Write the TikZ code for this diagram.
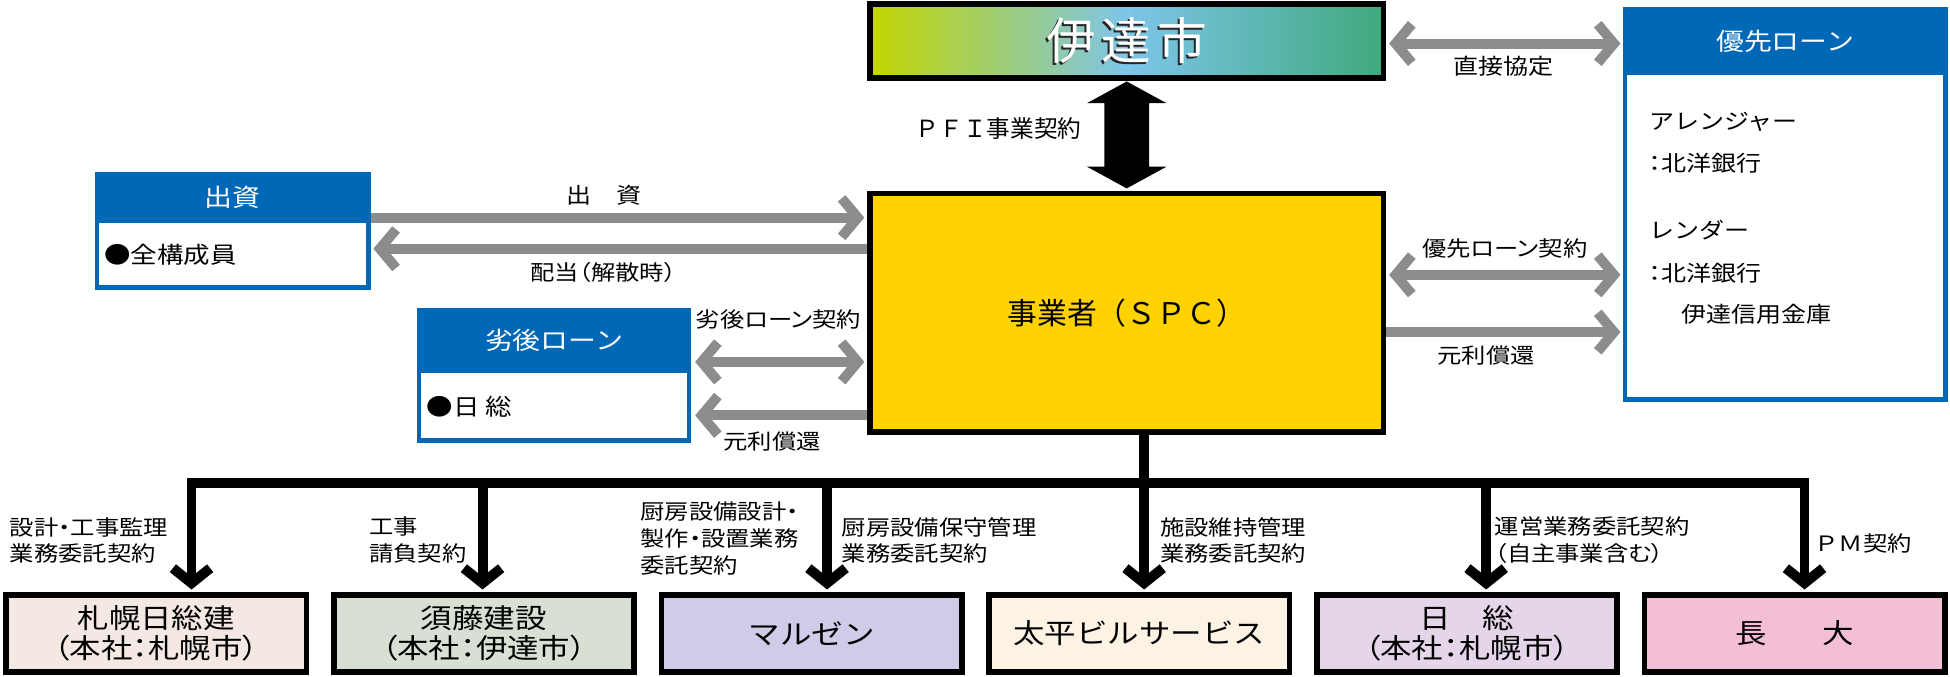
\documentclass[tikz,border=0pt]{standalone}
\usepackage{fontspec}
\setmainfont{Noto Sans CJK JP}
\newfontfamily\jpn{Noto Sans CJK JP}
\newfontfamily\jpw[FakeStretch=1.15]{Noto Sans CJK JP}
\newfontfamily\jpp[FakeStretch=1.15,RawFeature=+palt]{Noto Sans CJK JP}
\usetikzlibrary{arrows.meta,calc}
\definecolor{gArrow}{HTML}{8C8C8C}
\definecolor{hdrBlue}{HTML}{0068B6}
\definecolor{spcYellow}{HTML}{FFD200}
\definecolor{cityL}{HTML}{C3D600}
\definecolor{cityM}{HTML}{7EC5EA}
\definecolor{cityR}{HTML}{3FA97C}
\definecolor{fA}{HTML}{F3E8E2}
\definecolor{fB}{HTML}{D8E0D3}
\definecolor{fC}{HTML}{CFCCE8}
\definecolor{fD}{HTML}{FDF3E5}
\definecolor{fE}{HTML}{E5D5E9}
\definecolor{fF}{HTML}{F5BED7}
\newcommand{\sz}[2]{\fontsize{#1pt}{#2pt}\selectfont}
\tikzset{
  gtip/.tip={Straight Barb[length=13pt,width=31pt,sharp]},
  btip/.tip={Straight Barb[length=12pt,width=30pt,sharp]},
  gline/.style={draw=gArrow,line width=8pt},
  bline/.style={draw=black,line width=8pt},
  blackbox/.style={draw=black,line width=4.5pt,inner sep=0pt,outer sep=0pt},
  bluebody/.style={draw=hdrBlue,line width=3.5pt,fill=white,inner sep=0pt,outer sep=0pt},
  bluehdr/.style={fill=hdrBlue,inner sep=0pt,outer sep=0pt,text=white,font=\jpw\sz{19.5}{22}},
  lbl/.style={inner sep=0pt,outer sep=0pt,text=black,font=\jpw\sz{17}{21.5}},
  plbl/.style={lbl,font=\jpp\sz{17}{21.5}},
  mlbl/.style={plbl,align=left,anchor=west},
  bodytxt/.style={lbl,font=\jpw\sz{17.5}{20},anchor=west},
  corp/.style={blackbox,minimum width=241.5pt,minimum height=62pt,font=\jpw\sz{22}{24.5},align=center},
  title/.style={inner sep=0pt,font=\jpn\sz{40}{40}},
}
\begin{document}
\begin{tikzpicture}[x=1pt,y=-1pt]
\fill[white] (0,0) rectangle (1568,543.6);
\useasboundingbox (0,0) rectangle (1568,543.6);

% main boxes
\node[blackbox,minimum width=413pt,minimum height=59.5pt,left color=cityL,right color=cityR,middle color=cityM] (city) at (906,32.75) {};
\node[title,text=black!85] (cityShadow) at ($(city.center)+(-1.5,1.5)$) {伊\hspace{4.5pt}達\hspace{4.5pt}市};
\node[title,text=white] (cityText) at (city.center) {伊\hspace{4.5pt}達\hspace{4.5pt}市};

\node[blackbox,fill=spcYellow,minimum width=413pt,minimum height=192pt,font=\jpn\sz{24}{24}] (spc) at (906,251.5) {事業者（ＳＰＣ）};

% senior loan box
\node[bluebody,minimum width=257.5pt,minimum height=313.5pt] (senior) at (1435.5,164.5) {};
\node[bluehdr,minimum width=261pt,minimum height=54pt] (seniorHdr) at (1435.5,33) {優先ローン};
\node[bodytxt] (sb1) at (1326,98) {アレンジャー};
\node[bodytxt,font=\jpp\sz{17.5}{20}] (sb2) at (1326,131) {：北洋銀行};
\node[bodytxt] (sb3) at (1326,185) {レンダー};
\node[bodytxt,font=\jpp\sz{17.5}{20}] (sb4) at (1326,220) {：北洋銀行};
\node[bodytxt] (sb5) at (1352,253) {伊達信用金庫};

% equity box
\node[bluebody,minimum width=218.5pt,minimum height=91.5pt] (equity) at (187,185.5) {};
\node[bluehdr,minimum width=222pt,minimum height=41.5pt] (equityHdr) at (187,158.75) {出資};
\node[bodytxt,font=\jpw\sz{18.5}{20}] (equityBody) at (84,205) {●全構成員};

% subordinated loan box
\node[bluebody,minimum width=217.5pt,minimum height=104.5pt] (sub) at (445.5,302) {};
\node[bluehdr,minimum width=221pt,minimum height=52pt] (subHdr) at (445.5,274) {劣後ローン};
\node[bodytxt,font=\jpw\sz{18.5}{20}] (subBody) at (343,327) {●日 総};

% bottom companies
\node[corp,fill=fA] (b1) at (125.6,509.25) {札幌日総建\\{\jpp（本社：札幌市）}};
\node[corp,fill=fB] (b2) at (389.1,509.25) {須藤建設\\{\jpp（本社：伊達市）}};
\node[corp,fill=fC] (b3) at (652.6,509.25) {マルゼン};
\node[corp,fill=fD] (b4) at (916.1,509.25) {太平ビルサービス};
\node[corp,fill=fE] (b5) at (1179.6,509.25) {日　総\\{\jpp（本社：札幌市）}};
\node[corp,fill=fF] (b6) at (1443.1,509.25) {長\hspace{45pt}大};

% gray connectors
\coordinate (yA) at (0,35);
\coordinate (yB) at (0,175);
\coordinate (yC) at (0,200);
\coordinate (yD) at (0,221);
\coordinate (yE) at (0,267);
\coordinate (yF) at (0,291);
\coordinate (yG) at (0,334);
\draw[gline,gtip-gtip,shorten <=4.5pt,shorten >=3.75pt] (city.east |- yA) -- (senior.west |- yA);
\draw[gline,gtip-gtip,shorten <=4.5pt,shorten >=3.75pt] (spc.east |- yD) -- (senior.west |- yD);
\draw[gline,-gtip,shorten <=2.25pt,shorten >=3.75pt] (spc.east |- yE) -- (senior.west |- yE);
\draw[gline,-gtip,shorten <=1.75pt,shorten >=4.5pt] (equity.east |- yB) -- (spc.west |- yB);
\draw[gline,-gtip,shorten <=2.25pt,shorten >=4pt] (spc.west |- yC) -- (equity.east |- yC);
\draw[gline,gtip-gtip,shorten <=4.75pt,shorten >=4.5pt] (sub.east |- yF) -- (spc.west |- yF);
\draw[gline,-gtip,shorten <=2.25pt,shorten >=4.75pt] (spc.west |- yG) -- (sub.east |- yG);

% connector labels
\node[lbl,font=\jpw\sz{17.5}{20}] (lDirect) at (1209,53) {直接協定};
\node[plbl] (lSenior) at (1210,200) {優先ローン契約};
\node[lbl] (lSeniorRepay) at (1195,286) {元利償還};
\node[lbl,font=\jpw\sz{17.5}{20}] (lEquity) at (486,157) {出　資};
\node[plbl] (lDiv) at (485,219) {配当（解散時）};
\node[plbl] (lSub) at (626,257) {劣後ローン契約};
\node[lbl] (lSubRepay) at (621,355) {元利償還};
\node[lbl,font=\jpn\sz{19}{20}] (lPFI) at (803,103) {ＰＦＩ事業契約};

% PFI block arrow
\coordinate (pfiTop) at ($(city.south)+(0,3)$);
\coordinate (pfiBot) at ($(spc.north)+(0,-4)$);
\fill[black] (pfiTop) -- ($(pfiTop)+(32,17.5)$) -- ($(pfiTop)+(18,17.5)$) -- ($(pfiBot)+(18,-17.5)$) -- ($(pfiBot)+(32,-17.5)$) -- (pfiBot) -- ($(pfiBot)+(-32,-17.5)$) -- ($(pfiBot)+(-18,-17.5)$) -- ($(pfiTop)+(-18,17.5)$) -- ($(pfiTop)+(-32,17.5)$) -- cycle;

% black contract tree
\coordinate (k1) at (154,388);
\coordinate (k2) at (388,388);
\coordinate (k3) at (665,388);
\coordinate (k4) at (920,388);
\coordinate (k5) at (1195,388);
\coordinate (k6) at (1451,388);
\draw[bline,btip-btip,shorten <=4.25pt,shorten >=4.25pt] (b1.north -| k1) -- (k1) -- (k6) -- (b6.north -| k6);
\draw[bline,-btip,shorten >=4.25pt] (k2) -- (b2.north -| k2);
\draw[bline,-btip,shorten >=4.25pt] (k3) -- (b3.north -| k3);
\draw[bline,-btip,shorten >=4.25pt] (spc.south -| k4) -- (b4.north -| k4);
\draw[bline,-btip,shorten >=4.25pt] (k5) -- (b5.north -| k5);

% contract labels
\node[mlbl] (c1) at (8,434.5) {設計・工事監理\\業務委託契約};
\node[mlbl] (c2) at (297,434.5) {工事\\請負契約};
\node[mlbl] (c3) at (515,433) {厨房設備設計・\\製作・設置業務\\委託契約};
\node[mlbl] (c4) at (677,434.5) {厨房設備保守管理\\業務委託契約};
\node[mlbl] (c5) at (933,434.5) {施設維持管理\\業務委託契約};
\node[mlbl] (c6) at (1202,434.5) {運営業務委託契約\\（自主事業含む）};
\node[lbl,anchor=west] (c7) at (1459,437) {ＰＭ契約};
\end{tikzpicture}
\end{document}
